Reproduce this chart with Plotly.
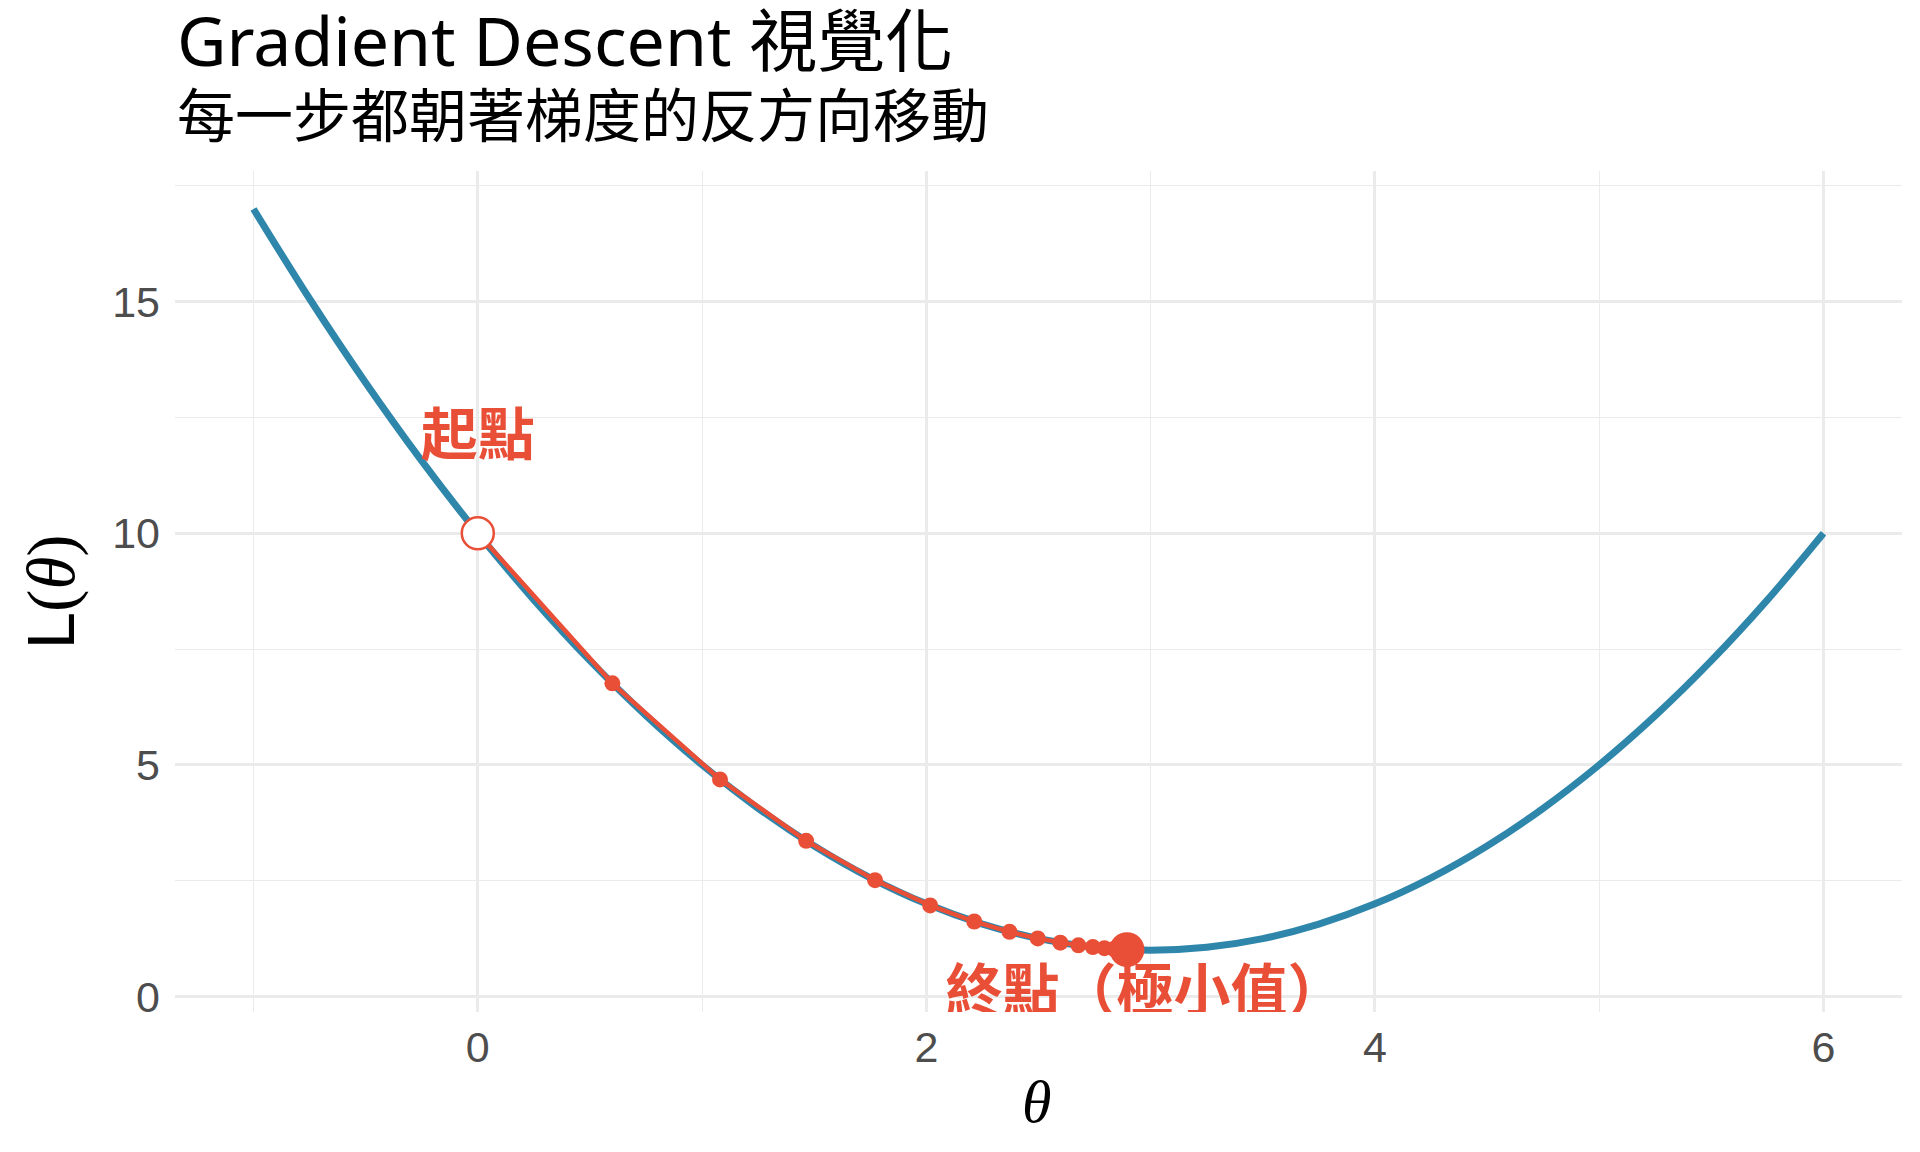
import plotly.graph_objects as go

# Loss curve L(theta) sampled values
curve_theta = [-1, -0.75, -0.5, -0.25, 0, 0.25, 0.5, 0.75, 1, 1.25, 1.5, 1.75, 2, 2.25, 2.5,
               2.75, 3, 3.25, 3.5, 3.75, 4, 4.25, 4.5, 4.75, 5, 5.25, 5.5, 5.75, 6]
curve_loss = [17, 15.0625, 13.25, 11.5625, 10, 8.5625, 7.25, 6.0625, 5, 4.0625, 3.25, 2.5625, 2, 1.5625, 1.25,
              1.0625, 1, 1.0625, 1.25, 1.5625, 2, 2.5625, 3.25, 4.0625, 5, 6.0625, 7.25, 8.5625, 10]

# Gradient descent path
path_theta = [0, 0.6, 1.08, 1.464, 1.7712, 2.01696, 2.21357, 2.37085, 2.49668, 2.59735,
              2.67788, 2.74230, 2.79384, 2.83507, 2.86806, 2.89445]
path_loss = [10, 6.76, 4.6864, 3.3593, 2.50995, 1.96637, 1.61848, 1.39582, 1.25333, 1.16213,
             1.10376, 1.06641, 1.04250, 1.02720, 1.01741, 1.01114]

start_label = "起點"
end_label = "終點（極小值）"
label_x = [0, 2.975]
label_y = [12, 0]

title = "Gradient Descent 視覺化"
subtitle = "每一步都朝著梯度的反方向移動"

x_ticks = [0, 2, 4, 6]
y_ticks = [0, 5, 10, 15]

BLUE = "#2E86AB"
RED = "#E94F37"
GRID = "#EBEBEB"

fig = go.Figure()

fig.add_trace(go.Scatter(x=curve_theta, y=curve_loss, mode="lines",
                         line=dict(color=BLUE, width=7, shape="spline"),
                         hoverinfo="skip", showlegend=False))

fig.add_trace(go.Scatter(x=path_theta, y=path_loss, mode="lines+markers",
                         line=dict(color=RED, width=4.5),
                         marker=dict(color=RED, size=16),
                         hoverinfo="skip", showlegend=False))

fig.add_trace(go.Scatter(x=[path_theta[0]], y=[path_loss[0]], mode="markers",
                         marker=dict(color="white", size=32, line=dict(color=RED, width=2.5)),
                         showlegend=False))
fig.add_trace(go.Scatter(x=[path_theta[-1]], y=[path_loss[-1]], mode="markers",
                         marker=dict(color=RED, size=35),
                         showlegend=False))

fig.add_trace(go.Scatter(x=label_x, y=label_y,
                         mode="text", text=[start_label, end_label],
                         textposition="middle center", cliponaxis=True,
                         textfont=dict(family="Noto Sans CJK TC", size=57, color=RED, weight="bold"),
                         showlegend=False))

fig.update_layout(
    width=1904, height=1136,
    paper_bgcolor="white", plot_bgcolor="white",
    margin=dict(l=167, r=10, t=163, b=132),
    xaxis=dict(range=[-1.35, 6.35], tickvals=x_ticks, showgrid=True, gridcolor=GRID, gridwidth=2.5,
               zeroline=False, showline=False, ticks="", ticklabelstandoff=6,
               tickfont=dict(family="Liberation Sans", size=43, color="#4D4D4D"),
               minor=dict(dtick=1, tick0=0, showgrid=True, gridcolor=GRID, gridwidth=1.3)),
    yaxis=dict(range=[-0.335, 17.82], tickvals=y_ticks, showgrid=True, gridcolor=GRID, gridwidth=2.5,
               zeroline=False, showline=False, ticks="", ticklabelstandoff=14,
               tickfont=dict(family="Liberation Sans", size=43, color="#4D4D4D"),
               minor=dict(dtick=2.5, tick0=0, showgrid=True, gridcolor=GRID, gridwidth=1.3)),
    annotations=[
        dict(text=title, x=0, y=1.157, xref="paper", yref="paper", height=74, valign="middle",
             xanchor="left", yanchor="middle", showarrow=False,
             font=dict(family="Noto Sans, Noto Sans CJK TC", size=68, color="black")),
        dict(text=subtitle, x=0, y=1.0696, xref="paper", yref="paper", height=66, valign="middle",
             xanchor="left", yanchor="middle", showarrow=False,
             font=dict(family="Noto Sans CJK TC", size=58, color="black")),
        dict(text="<i>θ</i>", x=0.499, y=-0.107, xref="paper", yref="paper",
             xanchor="center", yanchor="middle", showarrow=False,
             font=dict(family="Liberation Serif", size=60, color="black")),
        dict(text="L<span style=\"font-family:'Liberation Serif'\">(<i>θ</i>)</span>",
             x=-0.072, y=0.5, xref="paper", yref="paper", textangle=-90,
             xanchor="center", yanchor="middle", showarrow=False,
             font=dict(family="Liberation Sans", size=67, color="black")),
    ],
)

fig.write_html("out.html")
